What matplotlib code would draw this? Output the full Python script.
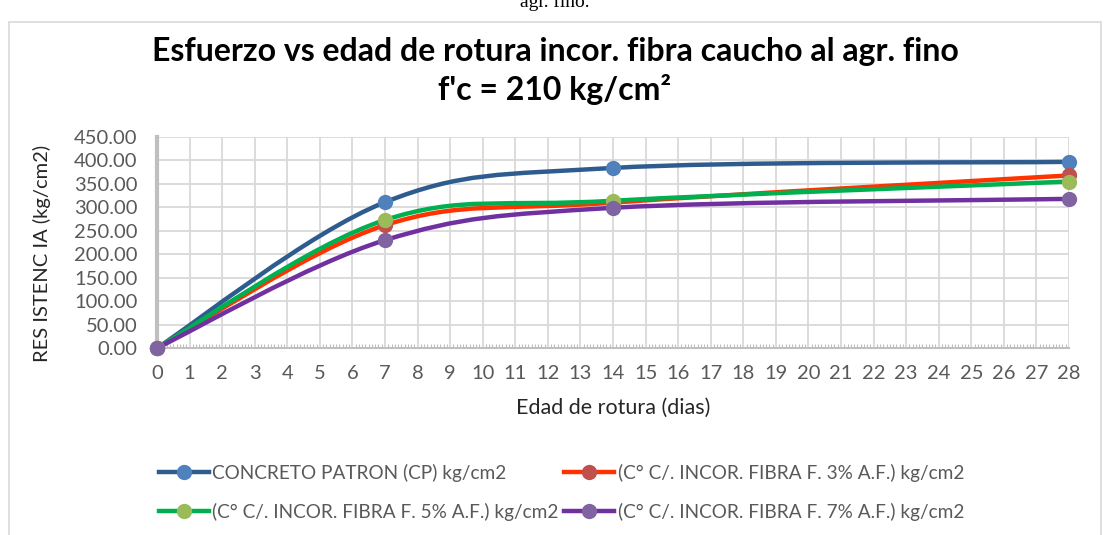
import matplotlib
matplotlib.use("Agg")
import matplotlib.pyplot as plt
from matplotlib.path import Path
from matplotlib.patches import PathPatch, Rectangle
from matplotlib.lines import Line2D
from matplotlib.ticker import MultipleLocator, FormatStrFormatter

# ---------------- data ----------------
edad = [0, 7, 14, 28]
cp = [0, 311, 384, 397]
f3 = [0, 262, 310, 368]
f5 = [0, 273, 314, 355]
f7 = [0, 230, 299, 318]

labels = [
    "CONCRETO PATRON (CP) kg/cm2",
    "(C° C/. INCOR. FIBRA F. 3% A.F.) kg/cm2",
    "(C° C/. INCOR. FIBRA F. 5% A.F.) kg/cm2",
    "(C° C/. INCOR. FIBRA F. 7% A.F.) kg/cm2",
]
series = [cp, f3, f5, f7]
line_colors = ["#2F5C8F", "#FF3300", "#00B050", "#7030A0"]
marker_colors = ["#4F81BD", "#C0504D", "#9BBB59", "#8064A2"]

title = "Esfuerzo vs edad de rotura incor. fibra caucho al agr. fino\nf'c = 210 kg/cm²"
xlabel = "Edad de rotura (dias)"
ylabel = "RES ISTENC IA (kg/cm2)"
caption = "agr. fino."

FONT = "Lato"
plt.rcParams["font.family"] = [FONT, "DejaVu Sans"]

W, H = 1109, 535
fig = plt.figure(figsize=(W / 100, H / 100), dpi=100)

# chart frame
fig.patches.append(Rectangle((9 / W, -0.05), (1101 - 9) / W, 1.05 - 22 / H,
                             transform=fig.transFigure, facecolor="white",
                             edgecolor="#D9D9D9", lw=1.2, zorder=-5))
# clipped caption from the document above the chart
fig.text(555 / W, 1 - 7 / H, caption, family="Liberation Serif",
         fontsize=14, ha="center", va="baseline", color="black")

ax = fig.add_axes([157 / W, 1 - 348 / H, (1069 - 157) / W, (348 - 137) / H])
ax.set_facecolor("none")
ax.set_xlim(0, 28)
ax.set_ylim(0, 450)
ax.xaxis.set_major_locator(MultipleLocator(1))
ax.xaxis.set_minor_locator(MultipleLocator(0.1))
ax.yaxis.set_major_locator(MultipleLocator(50))
ax.yaxis.set_major_formatter(FormatStrFormatter("%.2f"))
ax.grid(True, which="major", color="#D9D9D9", lw=1.3)
ax.set_axisbelow(True)
for s in ["top", "right"]:
    ax.spines[s].set_visible(False)
ax.spines["left"].set_color("#BFBFBF")
ax.spines["left"].set_linewidth(3)
ax.spines["bottom"].set_color("#BFBFBF")
ax.spines["bottom"].set_linewidth(1.5)
ax.tick_params(axis="both", which="major", length=0, labelsize=14.5,
               labelcolor="#595959")
ax.tick_params(axis="y", pad=14)
ax.tick_params(axis="x", pad=12)
ax.tick_params(axis="x", which="minor", direction="in", length=3,
               color="#BFBFBF", width=0.8)
ax.tick_params(axis="y", which="minor", length=0)


def smooth_path(xs, ys):
    n = len(xs)
    verts = [(xs[0], ys[0])]
    codes = [Path.MOVETO]
    for i in range(n - 1):
        i0 = max(i - 1, 0)
        i3 = min(i + 2, n - 1)
        c1 = (xs[i] + (xs[i + 1] - xs[i0]) / 6, ys[i] + (ys[i + 1] - ys[i0]) / 6)
        c2 = (xs[i + 1] - (xs[i3] - xs[i]) / 6, ys[i + 1] - (ys[i3] - ys[i]) / 6)
        verts += [c1, c2, (xs[i + 1], ys[i + 1])]
        codes += [Path.CURVE4] * 3
    return Path(verts, codes)


handles = []
for k, (vals, lc, mc, lab) in enumerate(zip(series, line_colors, marker_colors, labels)):
    ax.add_patch(PathPatch(smooth_path(edad, vals), facecolor="none", edgecolor=lc,
                           lw=3.2, capstyle="round", joinstyle="round",
                           zorder=3 + k, clip_on=False))
    ax.plot(edad, vals, ls="none", marker="o", ms=10, color=mc, mec=mc,
            zorder=10 + k, clip_on=False)
    handles.append(Line2D([], [], color=lc, lw=3.2, marker="o", ms=10,
                          mfc=mc, mec=mc))

fig.text(555 / W, 1 - 71 / H, title, ha="center", va="center",
         fontsize=23, fontweight="bold", color="black", linespacing=1.3)
ax.set_xlabel(xlabel, fontsize=15.5, color="#262626", labelpad=12)
ax.set_ylabel(ylabel, fontsize=14.5, color="#262626")
ax.yaxis.set_label_coords(-0.116, 0.45)

order = [0, 2, 1, 3]
fig.legend([handles[i] for i in order], [labels[i] for i in order],
           loc="center left", bbox_to_anchor=(142 / W, 1 - 492.5 / H),
           ncol=2, frameon=False, fontsize=13.7,
           handlelength=2.6, handletextpad=0.2, columnspacing=0.3,
           labelcolor="#595959", labelspacing=1.1)

fig.savefig("out.png", dpi=100, facecolor="white")
